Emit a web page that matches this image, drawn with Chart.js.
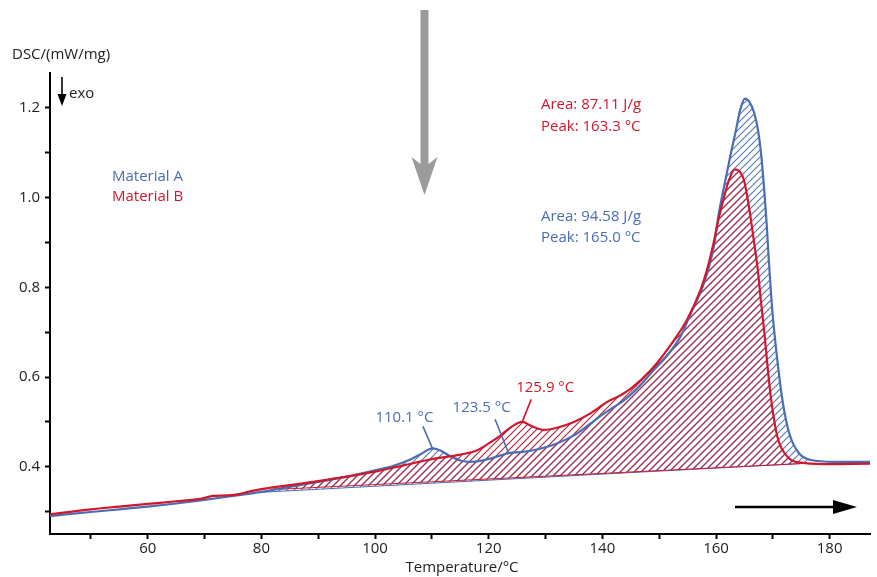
<!DOCTYPE html>
<html>
<head>
<meta charset="utf-8">
<title>DSC</title>
<script src="https://cdn.jsdelivr.net/npm/chart.js@4.4.1/dist/chart.umd.min.js"></script>
<style>
  html, body { margin: 0; padding: 0; background: #fff; }
  canvas { display: block; }
</style>
</head>
<body>
<canvas id="dscChart" width="877" height="577"></canvas>
<script>
// Material A (blue)
const tempA = [42.8, 50, 55, 60, 65, 70, 75, 80, 85, 90, 95, 100, 103, 106, 108, 110.1, 111.5, 113, 115, 116.7,
  118.5, 120.5, 123.5, 126, 129, 132, 135, 137.9, 140, 142, 143.8, 146.7, 149, 151.4, 153.7, 155.5, 157.9, 159.6, 160.5,
  161.5, 162.5, 163.5, 164.3, 165.1, 165.9, 166.7, 167.4, 168.0, 168.5, 168.9, 169.3, 169.9, 170.8, 171.7,
  172.9, 174.6, 176.7, 180.8, 187.1];
const dscA = [0.290, 0.299, 0.305, 0.311, 0.318, 0.326, 0.335, 0.344, 0.355, 0.366, 0.378, 0.392, 0.401, 0.415,
  0.428, 0.441, 0.436, 0.425, 0.414, 0.411, 0.413, 0.419, 0.430, 0.433, 0.440, 0.452, 0.470, 0.496, 0.516,
  0.533, 0.548, 0.582, 0.615, 0.648, 0.689, 0.740, 0.810, 0.890, 0.965, 1.030, 1.092, 1.150, 1.198, 1.221, 1.213,
  1.190, 1.150, 1.090, 1.015, 0.945, 0.860, 0.750, 0.637, 0.548, 0.474, 0.430, 0.415, 0.411, 0.411];

// Material B (red)
const tempB = [42.8, 50, 55, 60, 65, 69.5, 71.5, 74, 76, 78, 80, 85, 90, 95, 100, 105, 110, 115, 118, 120, 122,
  124, 125.9, 127.5, 129.7, 132, 135, 137.9, 140.8, 143, 145, 148.5, 152.6, 154.9, 157.3, 158.5, 159.5, 160.5,
  161.5, 162.3, 163.3, 164.2, 164.9, 165.8, 166.7, 167.3, 167.9, 168.5, 169.1, 169.7, 170.8, 172.6, 174.9,
  179, 187.1];
const dscB = [0.294, 0.305, 0.311, 0.317, 0.323, 0.329, 0.335, 0.336, 0.339, 0.345, 0.350, 0.359, 0.368, 0.378,
  0.389, 0.403, 0.417, 0.427, 0.437, 0.452, 0.469, 0.489, 0.500, 0.491, 0.482, 0.487, 0.500, 0.519, 0.544,
  0.558, 0.574, 0.615, 0.682, 0.728, 0.795, 0.843, 0.895, 0.955, 1.005, 1.040, 1.063, 1.058, 1.040, 0.980,
  0.900, 0.845, 0.770, 0.700, 0.620, 0.550, 0.467, 0.422, 0.409, 0.406, 0.407];

// integration baselines (start / end)
const baseTempA = [78.5, 176.3];
const baseA = [0.342, 0.408];
const baseTempB = [82, 175];
const baseB = [0.349, 0.407];

// labelled peaks
const peakTemps = [110.1, 123.5, 125.9];
const peakValues = [0.441, 0.430, 0.500];
const peakLabels = ['110.1 °C', '123.5 °C', '125.9 °C'];

const xTickLabels = [60, 80, 100, 120, 140, 160, 180];
const yTickLabels = [0.4, 0.6, 0.8, 1.0, 1.2];

const BLUE = '#4a6db3';
const RED = '#d0172c';
const FONT = '15px "Open Sans"';

function toPoints(xs, ys) {
  return xs.map((t, i) => ({ x: t, y: ys[i] }));
}

function hatch(color) {
  const c = document.createElement('canvas');
  c.width = 7;
  c.height = 7;
  const g = c.getContext('2d');
  g.strokeStyle = color;
  g.lineWidth = 1.1;
  g.beginPath();
  g.moveTo(-1, 8); g.lineTo(8, -1);
  g.moveTo(-1, 1); g.lineTo(1, -1);
  g.moveTo(6, 8); g.lineTo(8, 6);
  g.stroke();
  return g.createPattern(c, 'repeat');
}

function near(v, list) {
  return list.some(t => Math.abs(t - v) < 1e-6);
}

function arrowHead(ctx, pts) {
  ctx.beginPath();
  ctx.moveTo(pts[0][0], pts[0][1]);
  pts.slice(1).forEach(p => ctx.lineTo(p[0], p[1]));
  ctx.closePath();
  ctx.fill();
}

const decorations = {
  id: 'decorations',
  afterDraw(chart) {
    const { ctx } = chart;
    const x = chart.scales.x, y = chart.scales.y;
    ctx.save();
    ctx.font = FONT;
    ctx.textBaseline = 'middle';

    // axis titles
    ctx.fillStyle = '#222';
    ctx.textAlign = 'left';
    ctx.fillText('DSC/(mW/mg)', 12, 55);
    ctx.textAlign = 'center';
    ctx.fillText('Temperature/°C', 462, 568);

    // exo arrow
    ctx.textAlign = 'left';
    ctx.fillText('exo', 69, 94);
    ctx.strokeStyle = '#000';
    ctx.fillStyle = '#000';
    ctx.lineWidth = 1.6;
    ctx.beginPath();
    ctx.moveTo(62, 77); ctx.lineTo(62, 97);
    ctx.stroke();
    arrowHead(ctx, [[57.5, 94], [66.5, 94], [62, 106]]);

    // heating direction arrow
    ctx.lineWidth = 2.4;
    ctx.beginPath();
    ctx.moveTo(735, 507); ctx.lineTo(836, 507);
    ctx.stroke();
    arrowHead(ctx, [[833, 500], [857, 507], [833, 514]]);

    // gray arrow at top
    ctx.fillStyle = '#9b9b9b';
    arrowHead(ctx, [[420.5, 10], [428.5, 10], [428.5, 164], [437.5, 157], [424.5, 195],
      [411.5, 157], [420.5, 164]]);

    // legend
    ctx.fillStyle = BLUE;
    ctx.fillText('Material A', 112, 177);
    ctx.fillStyle = RED;
    ctx.fillText('Material B', 112, 197);

    // integration results
    ctx.fillStyle = RED;
    ctx.fillText('Area: 87.11 J/g', 541, 105);
    ctx.fillText('Peak: 163.3 °C', 541, 127);
    ctx.fillStyle = BLUE;
    ctx.fillText('Area: 94.58 J/g', 541, 217);
    ctx.fillText('Peak: 165.0 °C', 541, 238);

    // peak labels with leader lines
    const leader = [[-9.5, -22], [-13.5, -34], [9, -22.5]];
    const textOff = [[-28, -31], [-27, -46], [23, -34]];
    const colors = [BLUE, BLUE, RED];
    ctx.lineWidth = 1.6;
    ctx.textAlign = 'center';
    peakTemps.forEach((t, i) => {
      const px = x.getPixelForValue(t);
      const py = y.getPixelForValue(peakValues[i]);
      ctx.strokeStyle = colors[i];
      ctx.fillStyle = colors[i];
      ctx.beginPath();
      ctx.moveTo(px, py);
      ctx.lineTo(px + leader[i][0], py + leader[i][1]);
      ctx.stroke();
      ctx.fillText(peakLabels[i], px + textOff[i][0], py + textOff[i][1]);
    });
    ctx.restore();
  }
};

Chart.defaults.font.family = '"Open Sans"';
Chart.defaults.font.size = 15;
Chart.defaults.color = '#222';

new Chart(document.getElementById('dscChart'), {
  type: 'line',
  data: {
    datasets: [
      {
        label: 'Material B',
        data: toPoints(tempB, dscB),
        borderColor: RED,
        borderWidth: 2.2,
        pointRadius: 0,
        cubicInterpolationMode: 'monotone',
        fill: { target: 2, above: hatch('#b01f38'), below: 'rgba(0,0,0,0)' }
      },
      {
        label: 'Material A',
        data: toPoints(tempA, dscA),
        borderColor: BLUE,
        borderWidth: 2.2,
        pointRadius: 0,
        cubicInterpolationMode: 'monotone',
        fill: { target: 3, above: hatch('#5578bb'), below: 'rgba(0,0,0,0)' }
      },
      {
        label: 'Baseline B',
        data: toPoints(baseTempB, baseB),
        borderColor: RED,
        borderWidth: 1,
        pointRadius: 0,
        fill: false
      },
      {
        label: 'Baseline A',
        data: toPoints(baseTempA, baseA),
        borderColor: BLUE,
        borderWidth: 1,
        pointRadius: 0,
        fill: false
      }
    ]
  },
  options: {
    responsive: false,
    animation: false,
    layout: { padding: { top: 73, right: 7, left: 0, bottom: 0 } },
    plugins: {
      legend: { display: false },
      tooltip: { enabled: false },
      filler: { drawTime: 'beforeDatasetsDraw' }
    },
    scales: {
      x: {
        type: 'linear',
        min: 42.8,
        max: 187.1,
        afterFit: s => { s.height = 43; },
        afterBuildTicks: s => { s.ticks = s.ticks.filter(t => Math.abs(t.value / 10 - Math.round(t.value / 10)) < 1e-6); },
        border: { display: true, color: '#000', width: 2 },
        grid: { drawOnChartArea: false, drawTicks: true, tickLength: 5, tickColor: '#000', tickWidth: 2 },
        ticks: {
          stepSize: 10,
          includeBounds: false,
          padding: 1,
          maxRotation: 0,
          autoSkip: false,
          callback: v => near(v, xTickLabels) ? String(v) : ''
        }
      },
      y: {
        type: 'linear',
        min: 0.25,
        max: 1.278,
        afterFit: s => { s.width = 50; },
        afterBuildTicks: s => { s.ticks = s.ticks.filter(t => Math.abs(t.value * 10 - Math.round(t.value * 10)) < 1e-6); },
        border: { display: true, color: '#000', width: 2 },
        grid: { drawOnChartArea: false, drawTicks: true, tickLength: 5, tickColor: '#000', tickWidth: 2 },
        ticks: {
          stepSize: 0.1,
          includeBounds: false,
          padding: 5,
          autoSkip: false,
          callback: v => near(v, yTickLabels) ? v.toFixed(1) : ''
        }
      }
    }
  },
  plugins: [decorations]
});
</script>
</body>
</html>
